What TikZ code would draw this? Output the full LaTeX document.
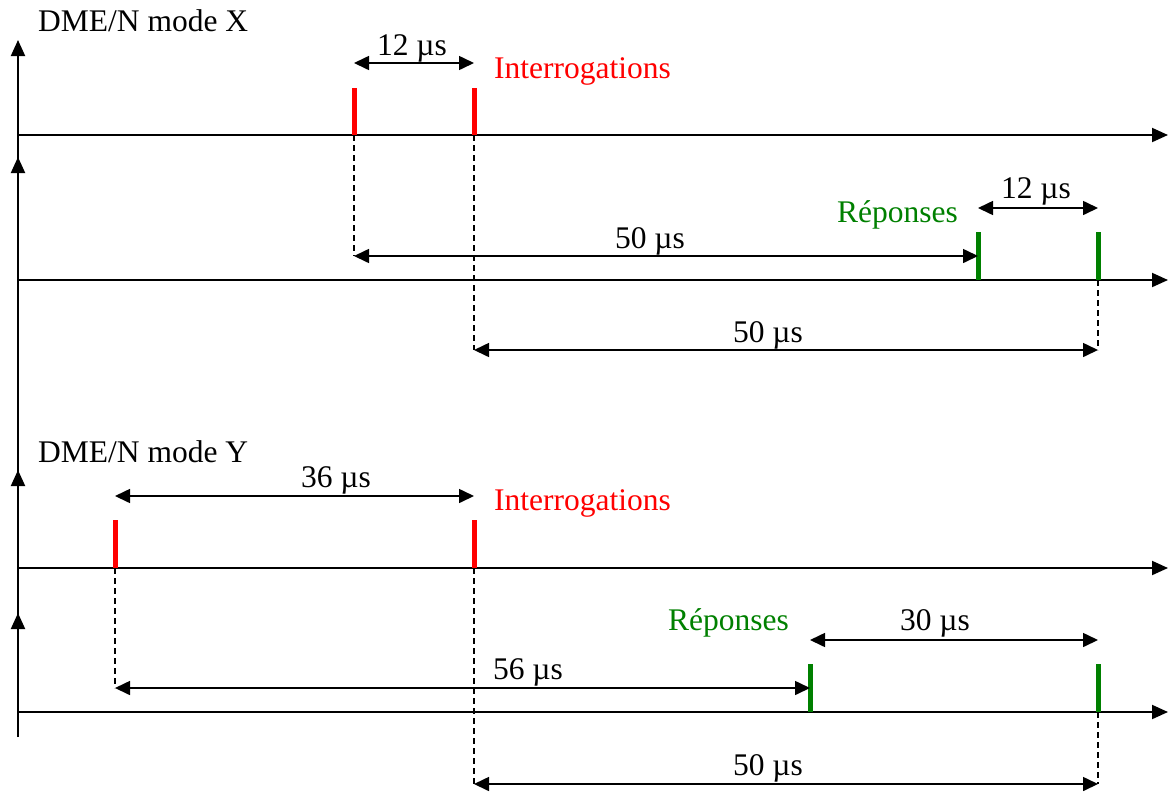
\documentclass[tikz,border=0pt]{standalone}
\usepackage{fontspec}
\setmainfont{Liberation Serif}
\usetikzlibrary{arrows.meta}
\definecolor{pulsered}{RGB}{255,0,0}
\definecolor{pulsegreen}{RGB}{0,128,0}
\begin{document}
\begin{tikzpicture}[x=1pt,y=-1pt,
  axis/.style={line width=2pt,-{Triangle[length=16pt,width=14pt]}},
  dim/.style={line width=1.6pt,{Triangle[length=15pt,width=14pt]}-{Triangle[length=15pt,width=14pt]}},
  guide/.style={line width=1.3pt,dash pattern=on 6pt off 4pt},
  redpulse/.style={pulsered,line width=5pt},
  greenpulse/.style={pulsegreen,line width=5pt},
  lbl/.style={font=\fontsize{31.5}{36}\selectfont,inner sep=0pt,anchor=base west},
  val/.style={font=\fontsize{31.5}{36}\selectfont,inner sep=0pt,anchor=base}]
\useasboundingbox (0,0) rectangle (1170,793);

% ---- time axes ----
\coordinate (v0) at (18,737);
\coordinate (v1) at (18,40);
\coordinate (v2) at (18,157);
\coordinate (v3) at (18,470);
\coordinate (v4) at (18,613);
\draw[axis] (v0) -- (v1);
\draw[axis] (18,300) -- (v2);
\draw[axis] (18,580) -- (v3);
\draw[axis] (18,725) -- (v4);
\foreach \n/\y in {a/135,b/280,c/568,d/712}{
  \coordinate (\n0) at (18,\y);
  \coordinate (\n1) at (1168,\y);
  \draw[axis] (\n0) -- (\n1);
}

% ---- mode X ----
\node[lbl] (titleX) at (38,31) {DME/N mode X};
\coordinate (xi1) at (354,135); \coordinate (xi1t) at (354,88);
\coordinate (xi2) at (474,135); \coordinate (xi2t) at (474,88);
\draw[redpulse] (xi1) -- (xi1t);
\draw[redpulse] (xi2) -- (xi2t);
\node[lbl,text=pulsered] (interX) at (494,78) {Interrogations};
\coordinate (xd12a) at (354,63); \coordinate (xd12b) at (474,63);
\draw[dim] (xd12a) -- (xd12b);
\node[val] (x12) at (412,55) {12 µs};

\coordinate (xr1) at (978,280); \coordinate (xr1t) at (978,232);
\coordinate (xr2) at (1098,280); \coordinate (xr2t) at (1098,232);
\draw[greenpulse] (xr1) -- (xr1t);
\draw[greenpulse] (xr2) -- (xr2t);
\node[lbl,text=pulsegreen] (repX) at (837,222) {Réponses};
\coordinate (xr12a) at (978,208); \coordinate (xr12b) at (1098,208);
\draw[dim] (xr12a) -- (xr12b);
\node[val] (xr12) at (1036,198) {12 µs};

\coordinate (xg1) at (354,256);
\coordinate (xg2) at (474,350);
\coordinate (xg3) at (1098,350);
\draw[guide] (xi1) -- (xg1);
\draw[guide] (xi2) -- (xg2);
\draw[guide] (xr2) -- (xg3);
\coordinate (xg1e) at (978,256);
\draw[dim] (xg1) -- (xg1e);
\node[val] (x50a) at (650,248) {50 µs};
\draw[dim] (xg2) -- (xg3);
\node[val] (x50b) at (768,342) {50 µs};

% ---- mode Y ----
\node[lbl] (titleY) at (38,462) {DME/N mode Y};
\coordinate (yi1) at (115,568); \coordinate (yi1t) at (115,520);
\coordinate (yi2) at (474,568); \coordinate (yi2t) at (474,520);
\draw[redpulse] (yi1) -- (yi1t);
\draw[redpulse] (yi2) -- (yi2t);
\node[lbl,text=pulsered] (interY) at (494,510) {Interrogations};
\coordinate (yd36a) at (115,496); \coordinate (yd36b) at (474,496);
\draw[dim] (yd36a) -- (yd36b);
\node[val] (y36) at (336,487) {36 µs};

\coordinate (yr1) at (810,712); \coordinate (yr1t) at (810,664);
\coordinate (yr2) at (1098,712); \coordinate (yr2t) at (1098,664);
\draw[greenpulse] (yr1) -- (yr1t);
\draw[greenpulse] (yr2) -- (yr2t);
\node[lbl,text=pulsegreen] (repY) at (668,630) {Réponses};
\coordinate (yr30a) at (810,640); \coordinate (yr30b) at (1098,640);
\draw[dim] (yr30a) -- (yr30b);
\node[val] (y30) at (935,630) {30 µs};

\coordinate (yg1) at (115,688);
\coordinate (yg2) at (474,784);
\coordinate (yg3) at (1098,784);
\draw[guide] (yi1) -- (yg1);
\draw[guide] (yi2) -- (yg2);
\draw[guide] (yr2) -- (yg3);
\coordinate (yg1e) at (810,688);
\draw[dim] (yg1) -- (yg1e);
\node[val] (y56) at (528,679) {56 µs};
\draw[dim] (yg2) -- (yg3);
\node[val] (y50) at (768,775) {50 µs};
\end{tikzpicture}
\end{document}
